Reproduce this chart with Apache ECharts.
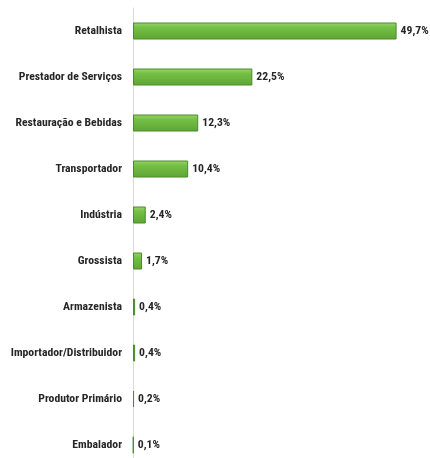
<!DOCTYPE html>
<html>
<head>
<meta charset="utf-8">
<script src="https://cdn.jsdelivr.net/npm/echarts@6/dist/echarts.min.js"></script>
<style>
  html, body { margin: 0; padding: 0; background: #ffffff; }
  #chart { width: 430px; height: 458px; }
</style>
</head>
<body>
<div id="chart"></div>
<script>
// categories top to bottom
const categories = [
  'Retalhista',
  'Prestador de Serviços',
  'Restauração e Bebidas',
  'Transportador',
  'Indústria',
  'Grossista',
  'Armazenista',
  'Importador/Distribuidor',
  'Produtor Primário',
  'Embalador'
];
const values = [49.7, 22.5, 12.3, 10.4, 2.4, 1.7, 0.4, 0.4, 0.2, 0.1];

const chart = echarts.init(document.getElementById('chart'));
const font = "'Roboto Condensed', 'DejaVu Sans Condensed', sans-serif";

const option = {
  backgroundColor: '#ffffff',
  animation: false,
  grid: { left: 133, right: 0, top: 8, height: 460, outerBoundsMode: 'none' },
  xAxis: {
    type: 'value',
    min: 0,
    max: 56,
    show: false
  },
  yAxis: {
    type: 'category',
    data: categories,
    inverse: true,
    axisLine: { show: true, lineStyle: { color: '#d9d9d9', width: 1 } },
    axisTick: { show: false },
    axisLabel: {
      color: '#262626',
      fontFamily: font,
      fontSize: 11.7,
      fontWeight: 'bold',
      margin: 11
    }
  },
  series: [{
    type: 'bar',
    data: values,
    barWidth: 17,
    itemStyle: {
      color: {
        type: 'linear', x: 0, y: 0, x2: 0, y2: 1,
        colorStops: [
          { offset: 0, color: '#9ad46f' },
          { offset: 0.3, color: '#74bf45' },
          { offset: 1, color: '#5ea535' }
        ]
      },
      borderColor: '#4a8a2a',
      borderWidth: 1
    },
    label: {
      show: true,
      position: 'right',
      distance: 4,
      color: '#262626',
      fontFamily: font,
      fontSize: 11.7,
      fontWeight: 'bold',
      formatter: p => p.value.toFixed(1).replace('.', ',') + '%'
    }
  }]
};

chart.setOption(option);
</script>
</body>
</html>
